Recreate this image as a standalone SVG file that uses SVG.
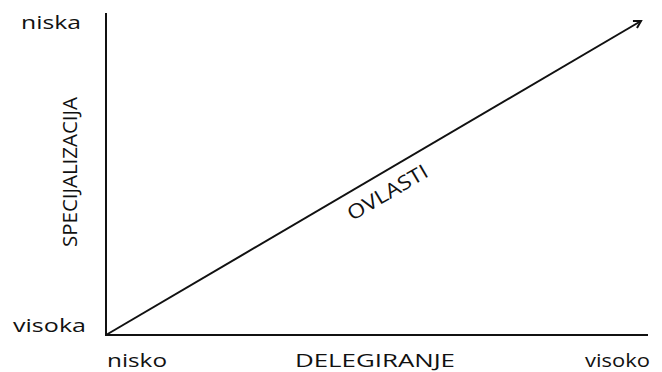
<svg xmlns="http://www.w3.org/2000/svg" width="662" height="372" viewBox="0 0 662 372">
<style>
.lbl{font-family:"Open Sans","Noto Sans","Liberation Sans",sans-serif;font-size:18px;fill:#111;}
.big{font-size:20px;}
.ax{stroke:#111;stroke-width:2;fill:none;}
</style>
<defs>
<marker id="arr" markerWidth="10" markerHeight="10" refX="8" refY="5" orient="auto" markerUnits="userSpaceOnUse">
<path d="M1,1 L8,5 L1,9" fill="none" stroke="#111" stroke-width="2"/>
</marker>
</defs>
<rect width="662" height="372" fill="#fff"/>
<g id="connectors">
<line class="ax" x1="106" y1="13" x2="106" y2="335"/>
<line class="ax" x1="105" y1="335" x2="648" y2="335"/>
<line class="ax" x1="106" y1="335" x2="641" y2="21" marker-end="url(#arr)"/>
</g>
<g id="y-labels">
<text class="lbl" x="21" y="29" textLength="60" lengthAdjust="spacingAndGlyphs">niska</text>
<text class="lbl" x="13" y="332" textLength="73" lengthAdjust="spacingAndGlyphs">visoka</text>
<text class="lbl big" transform="translate(77,172) rotate(-90)" x="0" y="0" text-anchor="middle" textLength="150" lengthAdjust="spacingAndGlyphs">SPECIJALIZACIJA</text>
</g>
<g id="x-labels">
<text class="lbl" x="107" y="367" textLength="60" lengthAdjust="spacingAndGlyphs">nisko</text>
<text class="lbl" x="295" y="367" textLength="160" lengthAdjust="spacingAndGlyphs">DELEGIRANJE</text>
<text class="lbl" x="585" y="367" textLength="65" lengthAdjust="spacingAndGlyphs">visoko</text>
</g>
<g id="line-label">
<text class="lbl big" transform="translate(387.5,192.5) rotate(-30.44)" x="0" y="7" text-anchor="middle" textLength="90" lengthAdjust="spacingAndGlyphs">OVLASTI</text>
</g>
</svg>
